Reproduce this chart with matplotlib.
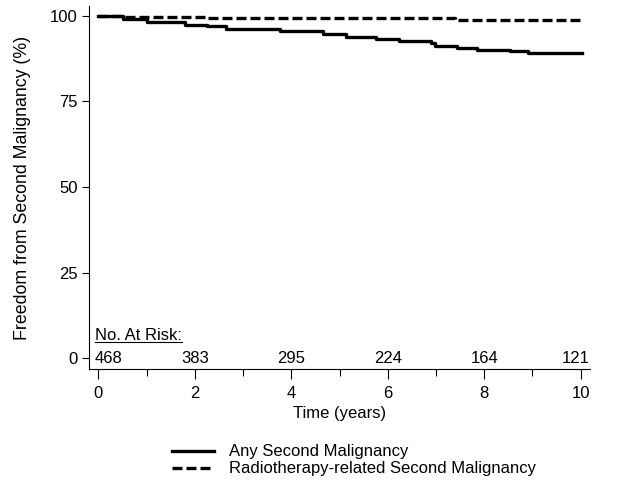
import numpy as np
import matplotlib
matplotlib.use("Agg")
import matplotlib.pyplot as plt
from matplotlib.lines import Line2D

plt.rcParams["font.family"] = ["Liberation Sans", "DejaVu Sans"]
plt.rcParams["font.size"] = 12

# step curves (years, %)
any_t = [0, 0.5, 1.0, 1.8, 2.24, 2.65, 3.76, 4.65, 5.14, 5.76, 6.24, 6.9, 6.97,
         7.43, 7.84, 8.53, 8.9, 10.02]
any_s = [100, 99.1, 98.1, 97.4, 96.9, 96.2, 95.4, 94.7, 93.9, 93.3, 92.7, 92.0,
         91.2, 90.5, 90.1, 89.6, 89.0, 89.0]
rt_t = [0, 0.5, 2.24, 7.4, 10.02]
rt_s = [100, 99.6, 99.2, 98.6, 98.6]

risk_years = [0, 2, 4, 6, 8, 10]
risk_counts = [468, 383, 295, 224, 164, 121]

labels = ["Any Second Malignancy", "Radiotherapy-related Second Malignancy"]

fig = plt.figure(figsize=(6.17, 4.8), dpi=100)
ax = fig.add_axes([0.144, 0.231, 0.812, 0.757])

l1, = ax.step(any_t, any_s, where="post", color="black", lw=2.4)
l2, = ax.step(rt_t, rt_s, where="post", color="black", lw=2.4,
              dashes=(3.0, 1.2))

ax.set_xlim(-0.2, 10.19)
ax.set_ylim(-3.2, 102.9)
ax.set_xticks([0, 2, 4, 6, 8, 10])
ax.set_xticks([1, 3, 5, 7, 9], minor=True)
ax.set_yticks([0, 25, 50, 75, 100])
ax.tick_params(axis="x", which="major", length=7, width=0.8, pad=5)
ax.tick_params(axis="x", which="minor", length=5, width=0.8)
ax.tick_params(axis="y", length=5, width=0.8, pad=3)
for side in ["top", "right"]:
    ax.spines[side].set_visible(False)
for side in ["left", "bottom"]:
    ax.spines[side].set_linewidth(0.8)

ax.set_xlabel("Time (years)", labelpad=4)
ax.set_ylabel("Freedom from Second Malignancy (%)", labelpad=14, fontsize=12.8)

# number at risk row
for yr, n in zip(risk_years, risk_counts):
    ha = "center"
    if yr == risk_years[0]:
        ha = "left"
        yr = -0.08
    elif yr == risk_years[-1]:
        ha = "right"
        yr = 10.18
    ax.text(yr, 0, str(n), ha=ha, va="center")
hdr = ax.text(-0.08, 6.5, "No. At Risk:", ha="left", va="center")

fig.canvas.draw()
bb = hdr.get_window_extent().transformed(fig.transFigure.inverted())
fig.add_artist(Line2D([bb.x0, bb.x1], [bb.y0 + 0.003, bb.y0 + 0.003],
                      transform=fig.transFigure, color="black", lw=0.8))

fig.legend([l1, l2], labels, loc="upper left", bbox_to_anchor=(0.279, 0.074),
           frameon=False, handlelength=2.5, handletextpad=0.9,
           labelspacing=0.12, borderaxespad=0, borderpad=0)

fig.savefig("out.png", dpi=100)
